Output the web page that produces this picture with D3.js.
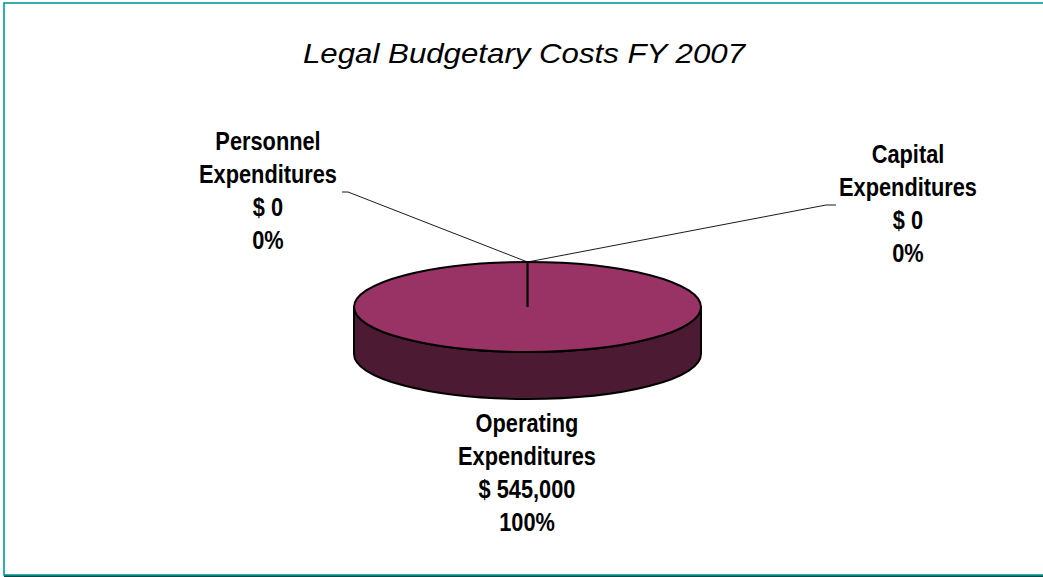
<!DOCTYPE html>
<html>
<head>
<meta charset="utf-8">
<script src="https://cdn.jsdelivr.net/npm/d3@7"></script>
<style>
  html, body { margin: 0; padding: 0; background: #fff; }
  svg { display: block; }
  .lbl { font-family: "Liberation Sans", Arial, sans-serif; font-weight: bold; font-size: 25px; fill: #000; }
  .title { font-family: "Liberation Sans", Arial, sans-serif; font-style: italic; font-size: 28.5px; fill: #000; }
</style>
</head>
<body>
<script>
// Budget categories and amounts (FY 2007)
const categories = ["Personnel Expenditures", "Operating Expenditures", "Capital Expenditures"];
const nameLines = [["Personnel", "Expenditures"], ["Operating", "Expenditures"], ["Capital", "Expenditures"]];
const amounts = [0, 545000, 0];
const chartTitle = "Legal Budgetary Costs FY 2007";

const W = 1043, H = 577;
const svg = d3.select("body").append("svg").attr("width", W).attr("height", H);

// frame
svg.append("rect").attr("x", 4).attr("y", 3).attr("width", W + 10).attr("height", 572)
  .attr("fill", "none").attr("stroke", "#009999").attr("stroke-width", 1.6);
svg.append("line").attr("x1", 4).attr("x2", W).attr("y1", 576.3).attr("y2", 576.3)
  .attr("stroke", "#004d4d").attr("stroke-width", 1.4);

// narrow title: squeeze the glyphs to the condensed width
svg.append("text").attr("class", "title").attr("x", 524).attr("y", 63)
  .attr("text-anchor", "middle")
  .attr("textLength", 442).attr("lengthAdjust", "spacingAndGlyphs")
  .text(chartTitle);

// 3-D pie geometry
const cx = 527.5, cy = 307, rx = 173.5, ry = 45, depth = 47;
const topColor = "#993366";
const sideColor = "#4d1a33";

const pie = d3.pie().sort(null).value(d => d)(amounts);
const total = d3.sum(amounts);
const arc = d3.arc().innerRadius(0).outerRadius(rx);

// point on the top ellipse for a pie angle (0 = 12 o'clock, clockwise)
const proj = (a, r = 1) => [cx + r * rx * Math.sin(a), cy - r * ry * Math.cos(a)];

// side wall (front half)
svg.append("path")
  .attr("d", `M${cx - rx},${cy} L${cx - rx},${cy + depth} A${rx},${ry} 0 0 0 ${cx + rx},${cy + depth} L${cx + rx},${cy} A${rx},${ry} 0 0 1 ${cx - rx},${cy} Z`)
  .attr("fill", sideColor).attr("stroke", "#000").attr("stroke-width", 2).attr("stroke-linejoin", "round");

// top face: slices drawn through d3.arc and squashed into the ellipse
const topG = svg.append("g").attr("transform", `translate(${cx},${cy}) scale(1,${ry / rx})`);
topG.selectAll("path.slice").data(pie.filter(d => d.value > 0)).join("path")
  .attr("class", "slice")
  .attr("d", arc)
  .attr("fill", topColor)
  .attr("stroke", "#000").attr("stroke-width", 2)
  .attr("vector-effect", "non-scaling-stroke");

// slice boundaries from centre to rim
const boundaries = Array.from(new Set(pie.filter(d => d.value > 0).map(d => d.startAngle % (2 * Math.PI))));
boundaries.forEach(a => {
  const [x, y] = proj(a);
  svg.append("line").attr("x1", cx).attr("y1", cy).attr("x2", x).attr("y2", y)
    .attr("stroke", "#000").attr("stroke-width", 2.2);
});

// labels
const fmtMoney = d3.format(",");
const fmtPct = d3.format(".0%");
const labelPos = [
  { x: 268, y: 150, anchor: [342, 192], bend: [348, 192] },
  { x: 527, y: 432, anchor: null },
  { x: 908, y: 163, anchor: [836, 205], bend: [826, 205] }
];
const lineGap = 33;

// condensed look: horizontal squeeze factor for the label font
const probe = svg.append("text").attr("class", "lbl").text("Expenditures");
const sx = 138 / probe.node().getComputedTextLength();
probe.remove();

pie.forEach((d, i) => {
  const p = labelPos[i];
  const lines = [...nameLines[i], "$ " + fmtMoney(d.value), fmtPct(total ? d.value / total : 0)];
  const t = svg.append("text").attr("class", "lbl").attr("text-anchor", "middle")
    .attr("transform", `translate(${i === 0 ? 268 : p.x},${p.y}) scale(${sx},1)`);
  lines.forEach((s, k) => t.append("tspan").attr("x", 0).attr("y", k * lineGap).text(s));
  if (p.anchor) {
    const [mx, my] = proj((d.startAngle + d.endAngle) / 2);
    svg.append("polyline")
      .attr("points", [[mx, my], p.bend, p.anchor].map(q => q.join(",")).join(" "))
      .attr("fill", "none").attr("stroke", "#000").attr("stroke-width", 0.9);
  }
});
</script>
</body>
</html>
